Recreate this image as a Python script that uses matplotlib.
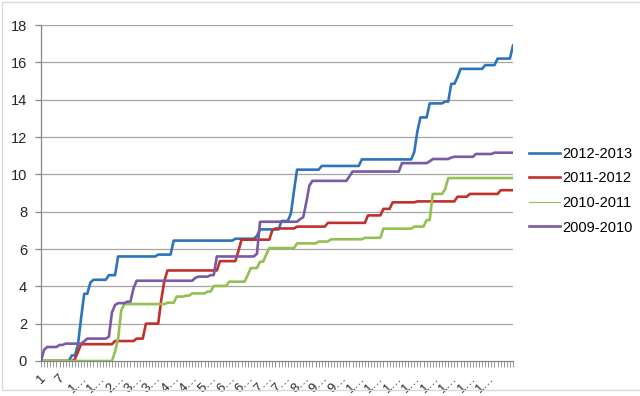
import numpy as np
import matplotlib
matplotlib.use("Agg")
import matplotlib.pyplot as plt
from matplotlib.lines import Line2D
from matplotlib.patches import Rectangle

plt.rcParams['font.family'] = ['Liberation Sans', 'DejaVu Sans']

# ---- data (step values, stored as value / run length) ----
n_cat = 154

blue_vals = [0, 0.3, 0.9, 2.3, 3.6, 4.2, 4.35, 4.6, 5.6, 5.7, 6.45, 6.55, 6.7, 7.05,
             7.5, 7.9, 9.1, 10.25, 10.45, 10.8, 11.2, 12.3, 13.05, 13.8, 13.9,
             14.85, 15.2, 15.65, 15.85, 16.2, 16.9]
blue_runs = [10, 2, 1, 1, 2, 1, 5, 3, 13, 5, 20, 7, 1, 7,
             3, 1, 1, 8, 13, 17, 1, 1, 3, 5, 2,
             2, 1, 8, 4, 5, 1]

red_vals = [0, 0.1, 0.5, 0.9, 1.07, 1.2, 2.0, 3.3, 4.3, 4.85, 5.35, 5.9, 6.5, 7.0,
            7.1, 7.2, 7.4, 7.8, 8.15, 8.5, 8.55, 8.8, 8.95, 9.15]
red_runs = [11, 1, 1, 11, 7, 3, 5, 1, 1, 17, 6, 1, 10, 1,
            7, 10, 13, 5, 3, 8, 13, 4, 10, 5]

green_vals = [0, 0.5, 1.2, 2.7, 3.05, 3.12, 3.45, 3.5, 3.62, 3.72, 4.02, 4.25, 4.6,
              4.98, 5.32, 5.7, 6.05, 6.3, 6.4, 6.52, 6.6, 7.09, 7.2, 7.55, 8.95,
              9.2, 9.8]
green_runs = [24, 1, 1, 1, 14, 3, 3, 2, 5, 2, 5, 6, 1,
              3, 2, 1, 9, 7, 4, 11, 6, 10, 4, 2, 4,
              1, 22]

purple_vals = [0, 0.6, 0.75, 0.86, 0.93, 1.05, 1.2, 1.3, 2.6, 3.0, 3.1, 3.18, 3.9,
               4.3, 4.45, 4.52, 4.6, 5.6, 5.75, 7.46, 7.6, 7.7, 8.5, 9.4, 9.65,
               9.9, 10.15, 10.6, 10.7, 10.82, 10.9, 10.94, 11.09, 11.16]
purple_runs = [1, 1, 4, 2, 6, 1, 7, 1, 1, 1, 3, 2, 1,
               19, 1, 4, 2, 13, 1, 13, 1, 1, 1, 1, 12,
               1, 16, 9, 1, 6, 1, 7, 6, 7]

series_names = ['2012-2013', '2011-2012', '2010-2011', '2009-2010']
series_colors = ['#2e74b9', '#c2302c', '#93c050', '#7b59a6']

label_pos = [1, 7, 13, 19, 25, 31, 37, 43, 49, 55, 61, 67, 73, 79, 85, 91, 97,
             103, 109, 115, 121, 127, 133, 139, 145]
tick_labels = ['1', '7', '1…', '1…', '2…', '3…', '3…', '4…', '4…', '5…', '6…', '6…',
               '7…', '7…', '8…', '9…', '9…', '1…', '1…', '1…', '1…', '1…', '1…',
               '1…', '1…']

cats = np.arange(1, n_cat + 1)
series = [np.repeat(blue_vals, blue_runs),
          np.repeat(red_vals, red_runs),
          np.repeat(green_vals, green_runs),
          np.repeat(purple_vals, purple_runs)]

# ---- figure ----
W, H = 640, 396
fig = plt.figure(figsize=(W / 100, H / 100), dpi=100)
ax = fig.add_axes([41 / W, 1 - 361 / H, 472 / W, 336 / H])

axis_col = '#868686'
for y in range(2, 19, 2):
    ax.axhline(y, color='#a5a5a5', lw=0.9, zorder=1)

# draw back-to-front like Excel (first series on bottom)
for vals, c, z in zip(series, series_colors, [2, 3, 4, 5]):
    ax.plot(cats, vals, color=c, lw=1.9, solid_joinstyle='round', zorder=z)

ax.set_xlim(1, n_cat)
ax.set_ylim(0, 18)
ax.set_yticks(range(0, 19, 2))
ax.set_xticks(label_pos)
ax.set_xticklabels(tick_labels, rotation=45, ha='center', va='top', fontsize=9.5)
ax.set_xticks(cats, minor=True)

for s in ['top', 'right']:
    ax.spines[s].set_visible(False)
for s in ['left', 'bottom']:
    ax.spines[s].set_color(axis_col)
    ax.spines[s].set_linewidth(0.9)

ax.tick_params(axis='y', length=4, width=0.9, color=axis_col, pad=6,
               labelsize=10.5, labelcolor='#262626')
ax.tick_params(axis='x', which='both', length=4, width=0.6, color=axis_col,
               pad=4, labelcolor='#262626')

# legend
handles = [Line2D([], [], color=series_colors[0], lw=1.9),
           Line2D([], [], color=series_colors[1], lw=1.9),
           Line2D([], [], color=series_colors[2], lw=0.8),
           Line2D([], [], color=series_colors[3], lw=1.9)]
fig.legend(handles, series_names, loc='upper left',
           bbox_to_anchor=(529 / W, 1 - 147 / H), frameon=False,
           fontsize=10.5, handlelength=2.15, handletextpad=0.15,
           labelspacing=0.72, borderpad=0, borderaxespad=0)

# chart area border
fig.patches.append(Rectangle((2 / W, 1 - 390 / H), 1.1, 388 / H,
                             transform=fig.transFigure, fill=False,
                             edgecolor='#d9d9d9', lw=1))

fig.savefig('out.png', dpi=100)
